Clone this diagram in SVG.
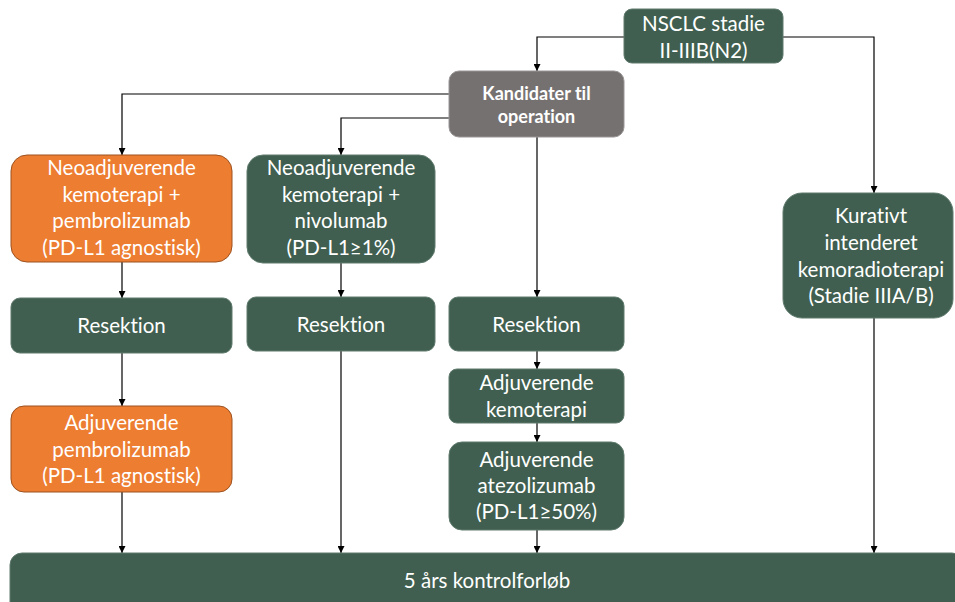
<svg xmlns="http://www.w3.org/2000/svg" width="955" height="602" viewBox="0 0 955 602">
<style>
.g{fill:#415F50;stroke:#5E7A6C;stroke-width:1}
.o{fill:#ED7D31;stroke:#9C5220;stroke-width:1}
.gr{fill:#767171;stroke:#9A9696;stroke-width:1}
.t{font-family:Lato,"Liberation Sans",sans-serif;font-size:20.5px;fill:#FFFFFF;text-anchor:middle;font-variant-ligatures:none}
.tb{font-family:Lato,"Liberation Sans",sans-serif;font-size:18px;font-weight:bold;fill:#FFFFFF;text-anchor:middle;font-variant-ligatures:none}
.c{fill:none;stroke:#000000;stroke-width:1.2;marker-end:url(#ah)}
</style>
<defs>
<marker id="ah" viewBox="0 0 10 10" refX="10" refY="5" markerWidth="7" markerHeight="7" markerUnits="userSpaceOnUse" orient="auto">
<path d="M0,0 L10,5 L0,10 z" fill="#000000"/>
</marker>
</defs>
<rect width="955" height="602" fill="#FFFFFF"/>
<g id="connectors">
<path class="c" d="M624,37 H537 V71"/>
<path class="c" d="M783,37 H874 V193"/>
<path class="c" d="M449,94 H122 V155"/>
<path class="c" d="M449,118 H341 V155"/>
<path class="c" d="M537,137 V297"/>
<path class="c" d="M122,262 V298"/>
<path class="c" d="M122,353 V406"/>
<path class="c" d="M122,492 V553"/>
<path class="c" d="M341,263 V297"/>
<path class="c" d="M341,351 V553"/>
<path class="c" d="M537,351 V369"/>
<path class="c" d="M537,423 V442"/>
<path class="c" d="M537,530 V553"/>
<path class="c" d="M874,318 V553"/>
</g>
<g id="nsclc">
<rect class="g" x="624" y="9" width="159" height="54" rx="8"/>
<text class="t" x="703.5" y="31">NSCLC stadie</text>
<text class="t" x="703.5" y="57.5">II-IIIB(N2)</text>
</g>
<g id="kandidater">
<rect class="gr" x="449" y="71" width="175" height="66" rx="10"/>
<text class="tb" x="536.5" y="100">Kandidater til</text>
<text class="tb" x="536.5" y="122.5">operation</text>
</g>
<g id="neo-pembro">
<rect class="o" x="11" y="155" width="221" height="107" rx="16"/>
<text class="t" x="121.5" y="175">Neoadjuverende</text>
<text class="t" x="121.5" y="201.5">kemoterapi +</text>
<text class="t" x="121.5" y="228">pembrolizumab</text>
<text class="t" x="121.5" y="254.5">(PD-L1 agnostisk)</text>
</g>
<g id="neo-nivo">
<rect class="g" x="247" y="155" width="188" height="108" rx="16"/>
<text class="t" x="341" y="175">Neoadjuverende</text>
<text class="t" x="341" y="201.5">kemoterapi +</text>
<text class="t" x="341" y="228">nivolumab</text>
<text class="t" x="341" y="254.5">(PD-L1≥1%)</text>
</g>
<g id="resektion1">
<rect class="g" x="11" y="298" width="221" height="55" rx="9"/>
<text class="t" x="121.5" y="333">Resektion</text>
</g>
<g id="resektion2">
<rect class="g" x="247" y="297" width="188" height="54" rx="9"/>
<text class="t" x="341" y="332">Resektion</text>
</g>
<g id="resektion3">
<rect class="g" x="449" y="297" width="175" height="54" rx="9"/>
<text class="t" x="536.5" y="332">Resektion</text>
</g>
<g id="adj-pembro">
<rect class="o" x="11" y="406" width="221" height="86" rx="13"/>
<text class="t" x="121.5" y="430">Adjuverende</text>
<text class="t" x="121.5" y="456.5">pembrolizumab</text>
<text class="t" x="121.5" y="483">(PD-L1 agnostisk)</text>
</g>
<g id="adj-kemo">
<rect class="g" x="449" y="369" width="175" height="54" rx="8"/>
<text class="t" x="536.5" y="390">Adjuverende</text>
<text class="t" x="536.5" y="416.5">kemoterapi</text>
</g>
<g id="adj-atezo">
<rect class="g" x="449" y="442" width="175" height="88" rx="13"/>
<text class="t" x="536.5" y="467">Adjuverende</text>
<text class="t" x="536.5" y="493">atezolizumab</text>
<text class="t" x="536.5" y="519">(PD-L1≥50%)</text>
</g>
<g id="kurativt">
<rect class="g" x="783" y="193" width="170" height="125" rx="19"/>
<text class="t" x="871" y="223">Kurativt</text>
<text class="t" x="871" y="250">intenderet</text>
<text class="t" x="871" y="276.5">kemoradioterapi</text>
<text class="t" x="871" y="303">(Stadie IIIA/B)</text>
</g>
<g id="kontrol">
<rect class="g" x="10" y="553" width="954" height="70" rx="12"/>
<text class="t" x="487" y="588">5 års kontrolforløb</text>
</g>
</svg>
